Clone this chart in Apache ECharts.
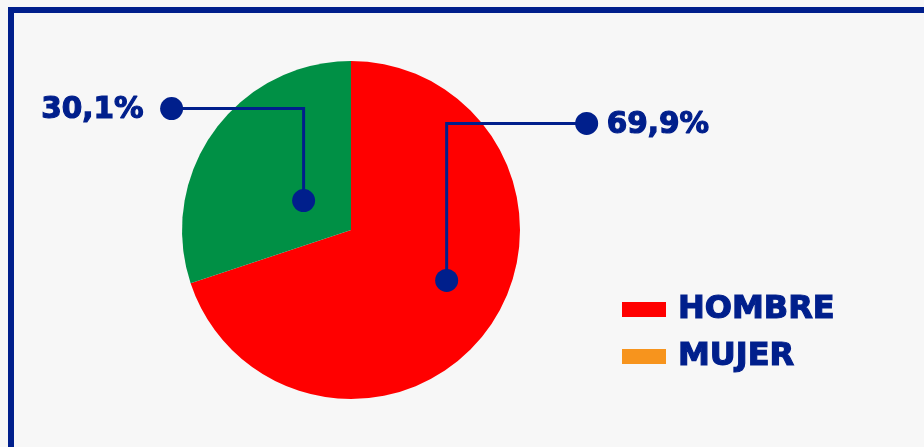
<!DOCTYPE html>
<html>
<head>
<meta charset="utf-8">
<script src="https://cdn.jsdelivr.net/npm/echarts@6/dist/echarts.min.js"></script>
<style>
  html, body { margin: 0; padding: 0; background: #f7f7f7; }
  #wrap { position: relative; width: 924px; height: 447px; overflow: hidden; }
  #frame { position: absolute; left: 8px; top: 7px; right: -10px; bottom: -10px;
           border-top: 6px solid #001f8c; border-left: 6px solid #001f8c; }
  #chart { position: absolute; left: 0; top: 0; width: 924px; height: 447px; }
</style>
</head>
<body>
<div id="wrap">
  <div id="frame"></div>
  <div id="chart"></div>
</div>
<script>
// ---- data ----
const categories = ['HOMBRE', 'MUJER'];
const values = [69.9, 30.1];
const sliceColors = ['#ff0000', '#009045'];
const legendColors = ['#ff0000', '#f7941d'];

// ---- layout / style ----
const NAVY = '#001f8c';
const FONT = '"DejaVu Sans", sans-serif';
const CX = 351, CY = 230, R = 169;
// per-slice leader configuration: angle shift (deg), radius fraction, rise (px), arm (px)
const leader = [
  { shift: -8, k: 0.64, rise: 157, arm: 140 },
  { shift: -4, k: 0.33, rise: 92, arm: -132 }
];

const total = values.reduce((a, b) => a + b, 0);
function anchorOf(i) {
  let before = 0;
  for (let j = 0; j < i; j++) before += values[j];
  const theta = ((before + values[i] / 2) / total * 360 + leader[i].shift) * Math.PI / 180;
  const r = leader[i].k * R;
  return [CX + r * Math.sin(theta), CY - r * Math.cos(theta)];
}
const pts = values.map((v, i) => {
  const a = anchorOf(i);
  const e = [a[0], a[1] - leader[i].rise];
  const t = [a[0] + leader[i].arm, e[1]];
  return [a, e, t];
});

const chart = echarts.init(document.getElementById('chart'), null, { renderer: 'canvas' });
const marks = [];
pts.forEach(p => {
  marks.push({ type: 'polyline', shape: { points: p }, style: { stroke: NAVY, lineWidth: 3, fill: null }, z: 99 });
  marks.push({ type: 'circle', shape: { cx: p[0][0], cy: p[0][1], r: 11.5 }, style: { fill: NAVY }, z: 100 });
  marks.push({ type: 'circle', shape: { cx: p[2][0], cy: p[2][1], r: 11.5 }, style: { fill: NAVY }, z: 100 });
});

chart.setOption({
  backgroundColor: 'transparent',
  animation: false,
  legend: {
    orient: 'vertical',
    left: 622,
    top: 292,
    padding: 0,
    icon: 'rect',
    itemWidth: 44,
    itemHeight: 15,
    itemGap: 12,
    textStyle: { color: NAVY, fontFamily: FONT, fontWeight: 'bold', fontSize: 32, lineHeight: 35,
                 padding: [0, 0, 0, 7], textBorderColor: NAVY, textBorderWidth: 1.2 },
    data: categories.map((c, i) => ({ name: c, itemStyle: { color: legendColors[i] } }))
  },
  graphic: marks,
  series: [{
    type: 'pie',
    center: [CX, CY],
    radius: [0, R],
    startAngle: 90,
    clockwise: true,
    silent: true,
    data: categories.map((c, i) => ({ name: c, value: values[i], itemStyle: { color: sliceColors[i] } })),
    label: {
      show: true,
      color: NAVY,
      fontFamily: FONT,
      fontWeight: 'bold',
      fontSize: 29.5,
      textBorderColor: NAVY,
      textBorderWidth: 1.2,
      formatter: p => p.value.toFixed(1).replace('.', ',') + '%'
    },
    labelLine: { show: false },
    labelLayout: function (params) {
      const i = params.dataIndex;
      const p = pts[i];
      const right = leader[i].arm > 0;
      return {
        x: p[2][0] + (right ? 20 : -28),
        y: p[2][1] + 2,
        align: right ? 'left' : 'right',
        verticalAlign: 'middle'
      };
    }
  }]
});
</script>
</body>
</html>
